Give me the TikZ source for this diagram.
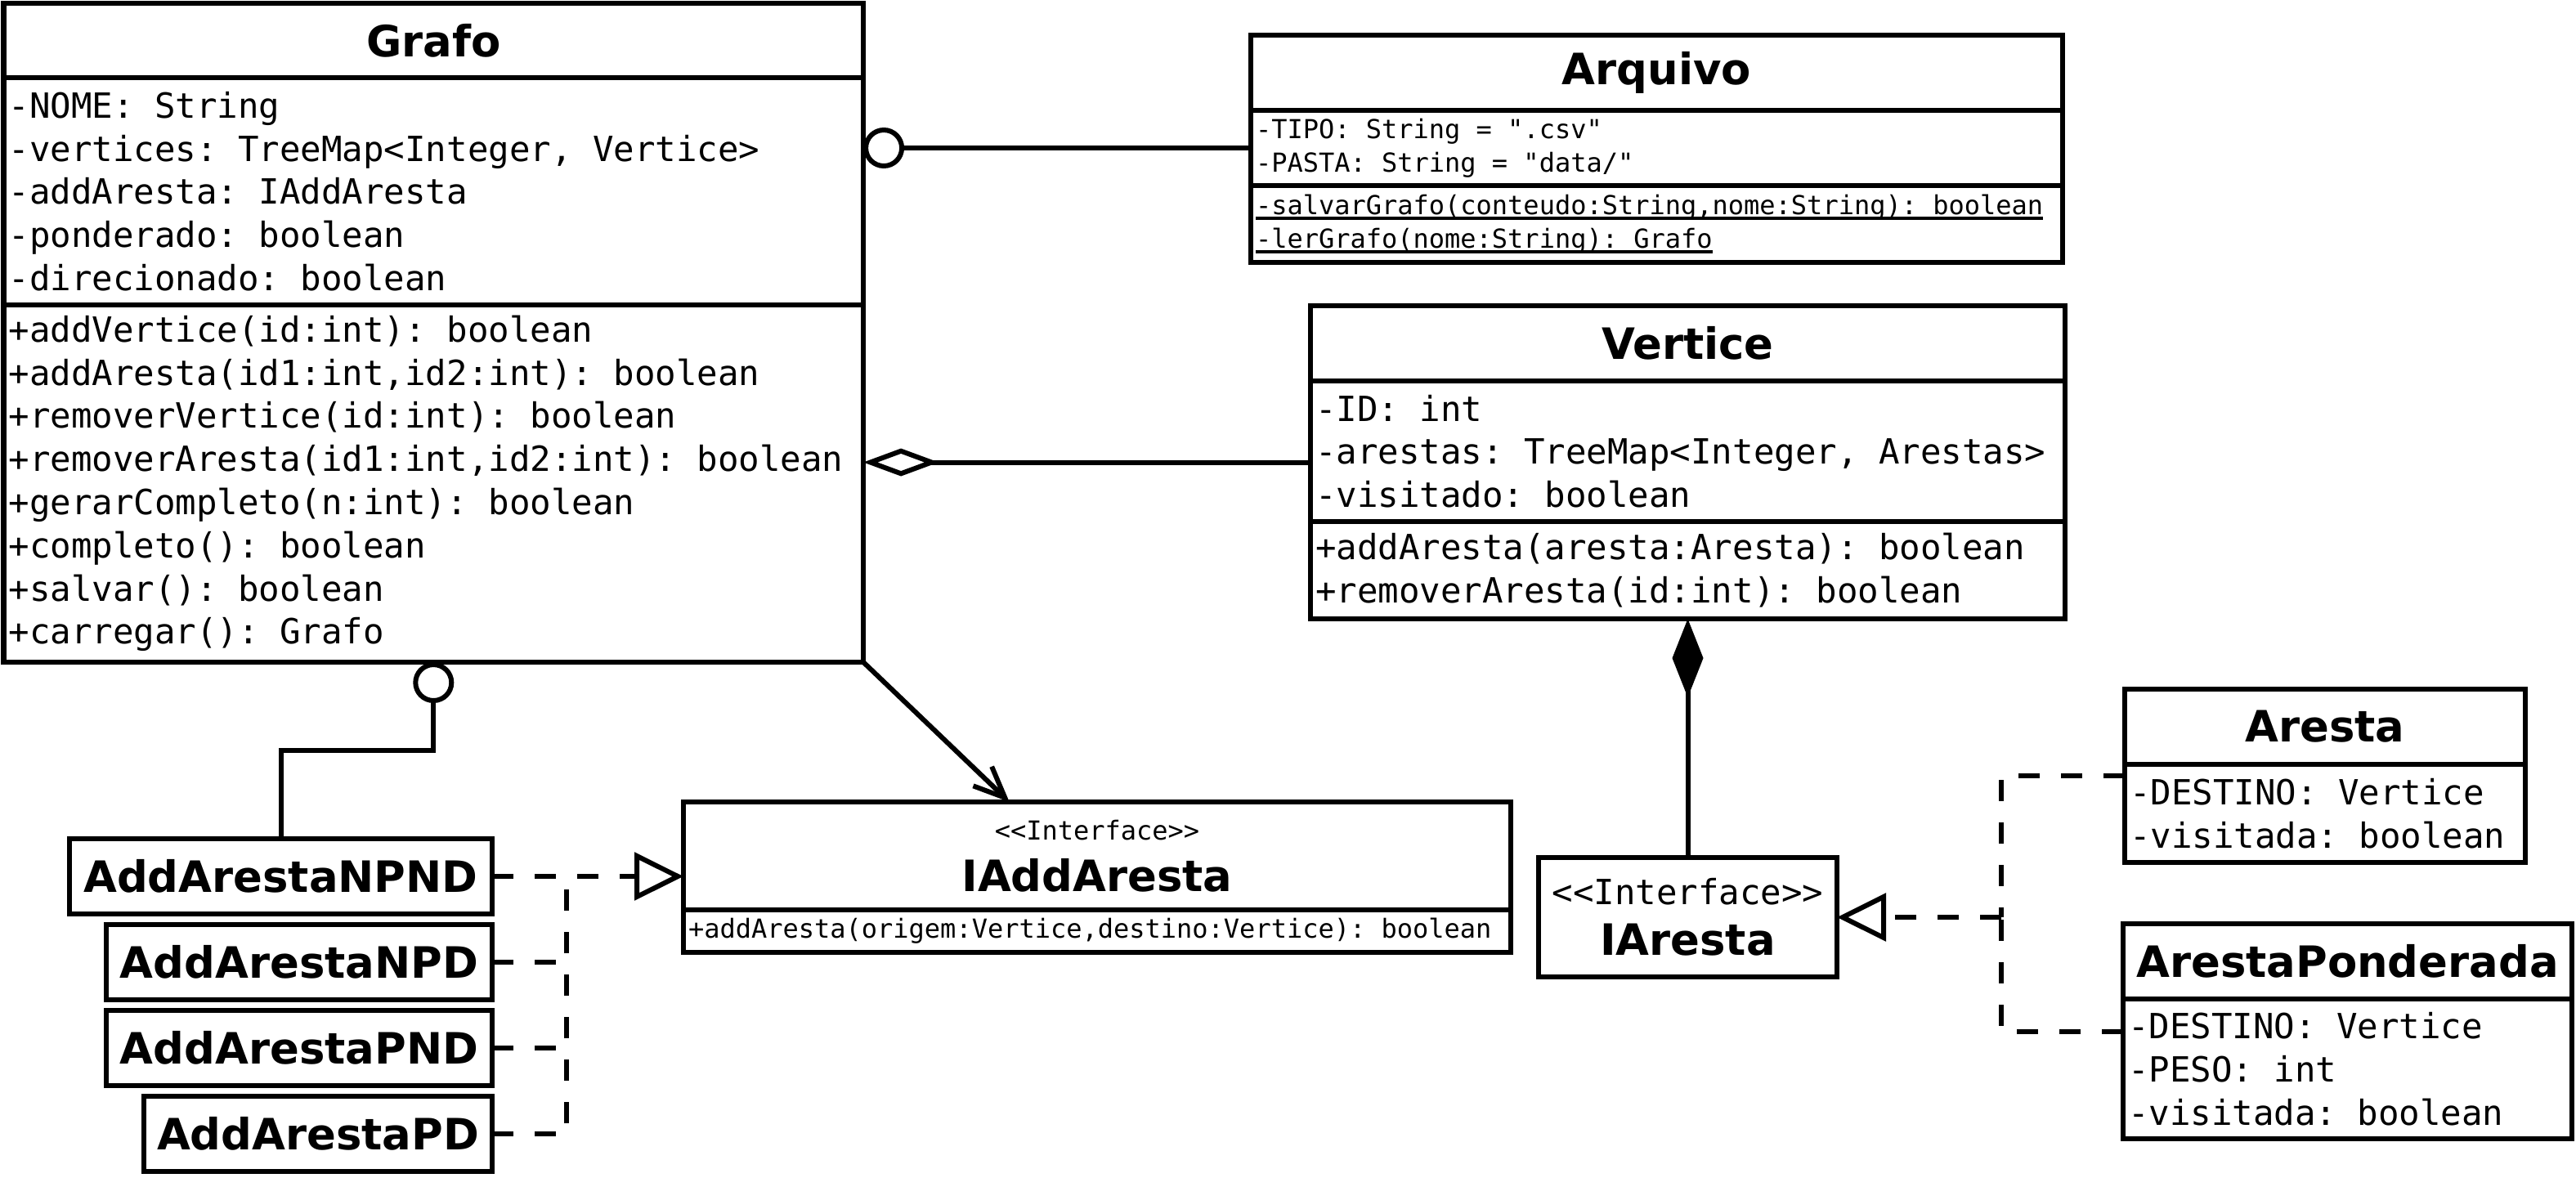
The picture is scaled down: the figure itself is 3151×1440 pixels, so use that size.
\documentclass[tikz,border=0pt]{standalone}
\usepackage{fontspec}
\setmonofont{DejaVu Sans Mono}
\newfontfamily\umlsans{DejaVu Sans}
\usetikzlibrary{positioning,arrows.meta,calc,fit}

\newcommand\classfont{\umlsans\bfseries\fontsize{13.2}{15.6}\selectfont}
\newcommand\memberfont{\normalfont\ttfamily\frenchspacing\fontsize{10.6}{13.2}\selectfont}
\newcommand\smallmember{\normalfont\ttfamily\frenchspacing\fontsize{8}{10.2}\selectfont}
\newcommand\staticmember[1]{\leavevmode\setbox0\hbox{#1}\rlap{\rule[-1.8pt]{\wd0}{1pt}}\box0}

\tikzset{
umlbox/.style={draw, line width=1.5pt, outer sep=0pt, inner sep=0pt},
classname/.style={umlbox, font=\classfont, align=center, minimum height=23pt},
members/.style={umlbox, font=\memberfont, align=left, inner xsep=1.5pt, text width=#1,
    execute at begin node={\spaceskip=0pt\xspaceskip=0pt}},
classframe/.style={fit=#1, inner sep=0pt, outer sep=0pt},
link/.style={line width=1.5pt},
realize/.style={link, dash pattern=on 6.5pt off 6.5pt},
}

\begin{document}
\begin{tikzpicture}[x=0.25pt, y=-0.25pt]
    \useasboundingbox (0,0) rectangle (3151,1440);

    % Grafo
    \node[classname, minimum width=262.9pt, minimum height=22.75pt, anchor=north west] (grafo) at (4.5,4) {Grafo};
    \node[members=259.9pt, minimum height=69.5pt, below=0pt of grafo] (grafo-attr)
    {
        -NOME: String
        \\
        -vertices: TreeMap<Integer, Vertice>
        \\
        -addAresta: IAddAresta
        \\
        -ponderado: boolean
        \\
        -direcionado: boolean
    };
    \node[members=259.9pt, minimum height=109.25pt, below=0pt of grafo-attr] (grafo-op)
    {
        +addVertice(id:int): boolean
        \\
        +addAresta(id1:int,id2:int): boolean
        \\
        +removerVertice(id:int): boolean
        \\
        +removerAresta(id1:int,id2:int): boolean
        \\
        +gerarCompleto(n:int): boolean
        \\
        +completo(): boolean
        \\
        +salvar(): boolean
        \\
        +carregar(): Grafo
    };
    \node[classframe={(grafo)(grafo-op)}] (grafo-box) {};

    % Arquivo
    \node[classname, minimum width=248.25pt, anchor=north west] (arquivo) at (1530,43) {Arquivo};
    \node[members=245.25pt, font=\smallmember, minimum height=23pt, below=0pt of arquivo] (arquivo-attr)
    {
        -TIPO: String = ".csv"
        \\
        -PASTA: String = "data/"
    };
    \node[members=245.25pt, font=\smallmember, minimum height=23.5pt, below=0pt of arquivo-attr] (arquivo-op)
    {
        \staticmember{-salvarGrafo(conteudo:String,nome:String): boolean}
        \\
        \staticmember{-lerGrafo(nome:String): Grafo}
    };

    % Vertice
    \node[classname, minimum width=230.75pt, anchor=north west] (vertice) at (1603,374) {Vertice};
    \node[members=227.75pt, minimum height=43pt, below=0pt of vertice] (vertice-attr)
    {
        -ID: int
        \\
        -arestas: TreeMap<Integer, Arestas>
        \\
        -visitado: boolean
    };
    \node[members=227.75pt, minimum height=29.75pt, below=0pt of vertice-attr] (vertice-op)
    {
        +addAresta(aresta:Aresta): boolean
        \\
        +removerAresta(id:int): boolean
    };
    \node[classframe={(vertice)(vertice-op)}] (vertice-box) {};

    % IAddAresta
    \node[classname, minimum width=253pt, minimum height=33pt, anchor=north west] (iadd) at (836,981)
    {
        {\smallmember <<Interface>>}
        \\
        IAddAresta
    };
    \node[members=250pt, font=\smallmember, minimum height=13pt, below=0pt of iadd] (iadd-op)
    {
        +addAresta(origem:Vertice,destino:Vertice): boolean
    };
    \node[classframe={(iadd)(iadd-op)}] (iadd-box) {};

    % implementacoes de IAddAresta
    \node[classname, minimum width=129.25pt, anchor=north east] (npnd) at (602,1026) {AddArestaNPND};
    \node[classname, minimum width=118pt, below=3.2pt of npnd.south east, anchor=north east] (npd) {AddArestaNPD};
    \node[classname, minimum width=118pt, below=3.2pt of npd.south east, anchor=north east] (pnd) {AddArestaPND};
    \node[classname, minimum width=106.5pt, below=3.4pt of pnd.south east, anchor=north east] (pd) {AddArestaPD};

    % IAresta
    \node[classname, minimum width=91.25pt, minimum height=36.5pt, anchor=north west] (iaresta) at (1882,1049)
    {
        {\memberfont <<Interface>>}
        \\
        IAresta
    };

    % Aresta
    \node[classname, minimum width=122.5pt, anchor=north west] (aresta) at (2599,843) {Aresta};
    \node[members=119.5pt, minimum height=30pt, below=0pt of aresta] (aresta-attr)
    {
        -DESTINO: Vertice
        \\
        -visitada: boolean
    };
    \node[classframe={(aresta)(aresta-attr)}] (aresta-box) {};

    % ArestaPonderada
    \node[classname, minimum width=137.25pt, anchor=north west] (ap) at (2597,1130) {ArestaPonderada};
    \node[members=134.25pt, minimum height=42.75pt, below=0pt of ap] (ap-attr)
    {
        -DESTINO: Vertice
        \\
        -PESO: int
        \\
        -visitada: boolean
    };
    \node[classframe={(ap)(ap-attr)}] (ap-box) {};

    % ligacoes
    \draw[link, {Circle[open, length=12.5pt, width=12.5pt]}-] (arquivo-attr.west -| grafo-box.east) -- (arquivo-attr.west);
    \draw[link, {Diamond[open, length=23pt, width=8.5pt]}-] (vertice-box.west -| grafo-box.east) -- (vertice-box.west);
    \draw[link, {Circle[open, length=12.5pt, width=12.5pt]}-] (grafo-box.south) |- ($(grafo-box.south)!.5!(npnd.north)$) -| (npnd.north);
    \draw[link, -{Straight Barb[length=9.5pt, width=8.2pt]}] (grafo-box.south east) -- ($(iadd.north west)!.394!(iadd.north east)$);
    \draw[link, {Diamond[length=24pt, width=9.5pt]}-] (vertice-box.south) -- (iaresta.north);

    \coordinate (npnd-join) at ($(npnd.east)+(91,0)$);
    \draw[realize, -{Triangle[open, length=15pt, width=14.5pt]}] (npnd.east) -- (npnd.east -| iadd-box.west);
    \draw[realize] (npd.east) -- (npd.east -| npnd-join);
    \draw[realize] (pnd.east) -- (pnd.east -| npnd-join);
    \draw[realize] (pd.east) -| (npnd-join);

    \coordinate (aresta-join) at ($(iaresta.east)+(201,0)$);
    \draw[realize, -{Triangle[open, length=15pt, width=14.5pt]}] (aresta-join) -- (iaresta.east);
    \draw[realize] (aresta-box.west) -| (aresta-join);
    \draw[realize] (ap-box.west) -| (aresta-join);
\end{tikzpicture}
\end{document}
